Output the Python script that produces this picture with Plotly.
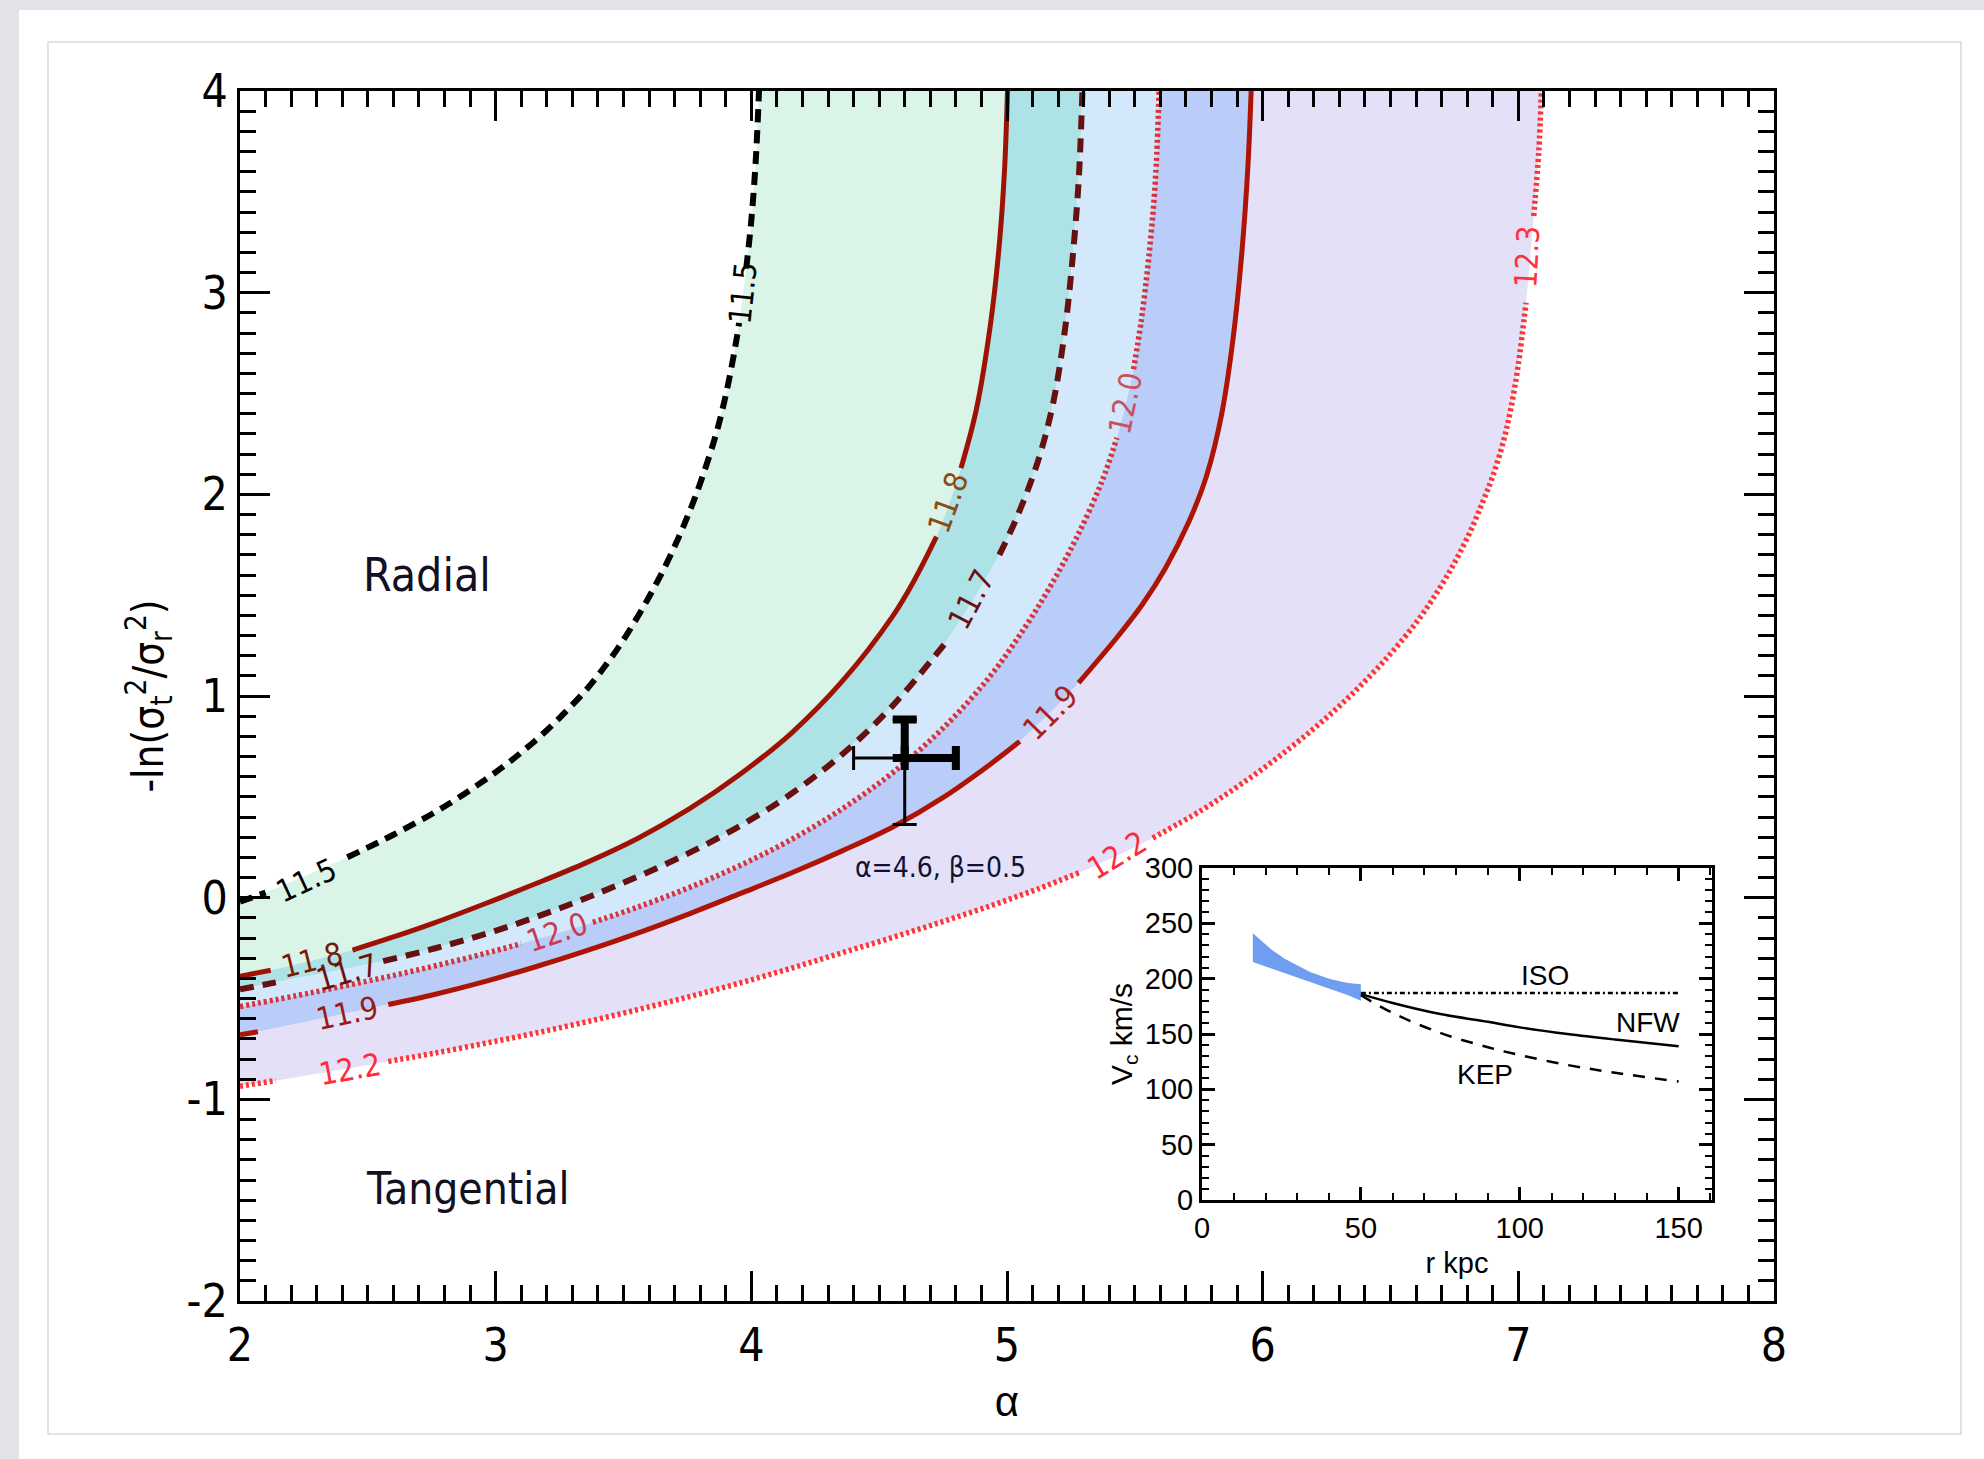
import plotly.graph_objects as go

# ---------------- data ----------------
x_ticks = [2, 3, 4, 5, 6, 7, 8]
y_ticks = [-2, -1, 0, 1, 2, 3, 4]
y_tick_text = ["-2", "-1", "0", "1", "2", "3", "4"]

# log-mass contours in the (alpha, -ln(sigma_t^2/sigma_r^2)) plane; None = gap under a label
alpha_115 = [2.00, 2.10, None, 2.42, 2.60, 2.80, 3.00, 3.10, 3.20, 3.28, 3.357, 3.42, 3.477, 3.54, 3.597, 3.66, 3.717, 3.76, 3.80, 3.86, 3.905, 3.945, 3.952, None, 3.98, 4.00, 4.017, 4.03]
lnr_115 = [-0.02, 0.025, None, 0.20, 0.312, 0.452, 0.622, 0.72, 0.83, 0.93, 1.035, 1.135, 1.235, 1.36, 1.485, 1.635, 1.79, 1.92, 2.055, 2.29, 2.52, 2.79, 2.85, None, 3.12, 3.36, 3.65, 4.00]

alpha_118 = [2.00, 2.12, None, 2.44, 2.60, 2.76, 2.958, 3.158, 3.357, 3.557, 3.757, 3.956, 4.156, 4.355, 4.555, 4.64, 4.724, None, 4.82, 4.88, 4.935, 4.97, 4.99, 5.002]
lnr_118 = [-0.39, -0.36, None, -0.26, -0.195, -0.125, -0.03, 0.07, 0.175, 0.295, 0.44, 0.612, 0.815, 1.072, 1.40, 1.58, 1.79, None, 2.13, 2.42, 2.84, 3.24, 3.60, 4.00]

alpha_117 = [2.00, 2.14, None, 2.56, 2.76, 2.96, 3.158, 3.357, 3.557, 3.757, 3.956, 4.156, 4.355, 4.555, 4.754, None, 4.97, 5.04, 5.12, 5.18, 5.225, 5.255, 5.28, 5.295]
lnr_117 = [-0.455, -0.42, None, -0.315, -0.252, -0.18, -0.096, 0.0, 0.105, 0.222, 0.356, 0.515, 0.71, 0.955, 1.255, None, 1.70, 1.89, 2.16, 2.45, 2.80, 3.15, 3.55, 4.00]

alpha_120 = [2.00, 2.28, 2.56, 2.76, 2.96, 3.10, None, 3.38, 3.557, 3.757, 3.956, 4.156, 4.355, 4.555, 4.754, 4.935, 5.07, 5.17, 5.27, 5.37, 5.43, None, 5.495, 5.525, 5.555, 5.58, 5.595]
lnr_120 = [-0.54, -0.471, -0.397, -0.339, -0.276, -0.228, None, -0.122, -0.046, 0.05, 0.16, 0.288, 0.44, 0.622, 0.846, 1.10, 1.34, 1.545, 1.78, 2.06, 2.28, None, 2.62, 2.86, 3.18, 3.55, 4.00]

alpha_119 = [2.00, 2.07, None, 2.58, 2.76, 2.96, 3.15, 3.35, 3.55, 3.757, 3.956, 4.156, 4.355, 4.555, 4.754, 4.935, 5.05, None, 5.28, 5.43, 5.53, 5.62, 5.71, 5.78, 5.84, 5.885, 5.92, 5.942, 5.955]
lnr_119 = [-0.68, -0.665, None, -0.53, -0.48, -0.415, -0.345, -0.265, -0.178, -0.08, 0.02, 0.122, 0.232, 0.352, 0.50, 0.662, 0.775, None, 1.065, 1.29, 1.455, 1.635, 1.86, 2.09, 2.40, 2.78, 3.22, 3.62, 4.00]

alpha_122 = [2.00, 2.14, None, 2.58, 2.76, 2.96, 3.15, 3.35, 3.55, 3.75, 3.95, 4.15, 4.35, 4.55, 4.75, 4.95, 5.12, 5.29, None, 5.57, 5.76, 5.91, 6.06, 6.21, 6.35, 6.49, 6.61, 6.69, 6.75, 6.81, 6.86, 6.90, 6.94, 6.97, 7.00, 7.03, None, 7.06, 7.08, 7.09]
lnr_122 = [-0.935, -0.907, None, -0.812, -0.771, -0.722, -0.673, -0.617, -0.557, -0.493, -0.425, -0.352, -0.275, -0.198, -0.118, -0.034, 0.043, 0.128, None, 0.296, 0.433, 0.558, 0.696, 0.849, 1.01, 1.195, 1.38, 1.53, 1.66, 1.81, 1.96, 2.09, 2.255, 2.42, 2.645, 2.95, None, 3.38, 3.70, 4.00]

# contour labels: text, alpha, y, angle
label_text = ["11.5", "11.5", "11.8", "11.8", "11.7", "11.7", "12.0", "12.0", "11.9", "11.9", "12.2", "12.2", "12.3"]
label_alpha = [2.26, 3.965, 2.28, 4.77, 2.42, 4.86, 3.24, 5.46, 2.42, 5.17, 2.43, 5.43, 7.035]
label_y = [0.09, 3.0, -0.31, 1.96, -0.37, 1.48, -0.17, 2.45, -0.57, 0.92, -0.85, 0.21, 3.18]
label_angle = [-25, -84, -14, -70, -16, -62, -19, -78, -12, -45, -10, -31, -87]

# measured point with error bars
pt_alpha = [4.6]
pt_lnr = [0.693]
pt_err_alpha = [0.20]
pt_err_lnr_up = [0.19]
pt_err_lnr_dn = [0.33]

# inset: circular velocity
band_r = [16, 18, 20, 22, 24, 26, 28, 30, 32, 34, 36, 38, 40, 43, 46, 50]
band_top = [241, 236, 231, 226, 222, 218, 215, 212, 209, 206, 204, 202, 200, 198, 196, 195]
band_bot = [215, 213, 211, 209, 207, 205, 203, 201, 199, 197, 195, 193, 191, 188, 185, 180]
iso_r = [50, 150]
iso_v = [187, 187]
nfw_r = [50, 60, 75, 90, 100, 115, 130, 150]
nfw_v = [186, 178, 168, 161, 156, 150, 145, 139]
kep_r = [50, 60, 75, 90, 100, 115, 130, 150]
kep_v = [185, 169, 151, 138, 131, 122, 115, 107]

# ---------------- styling ----------------
W, H = 1984, 1459
ML, MR, MT, MB = 240, 210, 91, 158
FN = "Liberation Sans Narrow, Arial Narrow, DejaVu Sans Condensed, Liberation Sans, Arial, sans-serif"
FS = "Liberation Sans, Arial, sans-serif"


def pxx(p):
    return (p - ML) / (W - ML - MR)


def pyy(p):
    return (H - MB - p) / (H - MT - MB)


curves = [
    (alpha_115, lnr_115, dict(color="black", width=6, dash="13px,8px"), None),
    (alpha_118, lnr_118, dict(color="#9e1206", width=5), "#daf5e7"),
    (alpha_117, lnr_117, dict(color="#661010", width=6, dash="14px,9px"), "#ade3e6"),
    (alpha_120, lnr_120, dict(color="#d8323c", width=5.5, dash="3px,3px"), "#d3e9fb"),
    (alpha_119, lnr_119, dict(color="#ad1404", width=5), "#bacdf8"),
    (alpha_122, lnr_122, dict(color="#ff3535", width=5.5, dash="3px,3px"), "#e3e0f8"),
]
label_colors = ["black", "black", "#7a1a05", "#8a4a10", "#6a1010", "#6a1010", "#c83a55", "#c85060",
                "#9a1a1a", "#a82020", "#ff2a3a", "#ff2a3a", "#ff3040"]

fig = go.Figure()

# fills between consecutive contours (invisible spline boundaries)
for i, (a, y, ln, fc) in enumerate(curves):
    ca = [v for v in a if v is not None]
    cy = [v for v in y if v is not None]
    fig.add_trace(go.Scatter(
        x=ca, y=cy, mode="lines",
        line=dict(width=0, shape="spline", smoothing=1.0, color="rgba(0,0,0,0)"),
        fill="tonexty" if fc else None, fillcolor=fc,
        hoverinfo="skip", showlegend=False))

# contour lines
for a, y, ln, fc in curves:
    fig.add_trace(go.Scatter(
        x=a, y=y, mode="lines", connectgaps=False,
        line=dict(shape="spline", smoothing=1.0, **ln),
        hoverinfo="skip", showlegend=False))

# error bars: thin full bars, thick upper/right halves
fig.add_trace(go.Scatter(
    x=pt_alpha, y=pt_lnr, mode="markers",
    marker=dict(color="black", size=10),
    error_x=dict(type="data", array=pt_err_alpha, arrayminus=pt_err_alpha, color="black", thickness=3, width=12),
    error_y=dict(type="data", array=pt_err_lnr_up, arrayminus=pt_err_lnr_dn, color="black", thickness=3, width=12),
    showlegend=False, hoverinfo="skip"))
fig.add_trace(go.Scatter(
    x=pt_alpha, y=pt_lnr, mode="markers",
    marker=dict(color="black", size=10),
    error_x=dict(type="data", array=pt_err_alpha, arrayminus=[0], color="black", thickness=8, width=12),
    error_y=dict(type="data", array=pt_err_lnr_up, arrayminus=[0], color="black", thickness=8, width=12),
    showlegend=False, hoverinfo="skip"))

# inset traces
fig.add_trace(go.Scatter(
    x=band_r + band_r[::-1], y=band_top + band_bot[::-1], mode="lines",
    fill="toself", fillcolor="#6f9ef0", line=dict(width=0, color="#6f9ef0"),
    xaxis="x2", yaxis="y2", showlegend=False, hoverinfo="skip"))
fig.add_trace(go.Scatter(x=iso_r, y=iso_v, mode="lines", line=dict(color="black", width=2.5, dash="5px,3px,2px,3px"),
                         xaxis="x2", yaxis="y2", showlegend=False, hoverinfo="skip"))
fig.add_trace(go.Scatter(x=nfw_r, y=nfw_v, mode="lines", line=dict(color="black", width=2.5, shape="spline"),
                         xaxis="x2", yaxis="y2", showlegend=False, hoverinfo="skip"))
fig.add_trace(go.Scatter(x=kep_r, y=kep_v, mode="lines", line=dict(color="black", width=2.5, dash="12px,10px", shape="spline"),
                         xaxis="x2", yaxis="y2", showlegend=False, hoverinfo="skip"))

annotations = []
for t, xa, ya, ang, c in zip(label_text, label_alpha, label_y, label_angle, label_colors):
    annotations.append(dict(x=xa, y=ya, xref="x", yref="y", text=t, showarrow=False, textangle=ang,
                            font=dict(family=FN, size=31, color=c)))
annotations += [
    dict(x=2.73, y=1.60, xref="x", yref="y", text="Radial", showarrow=False, font=dict(family=FN, size=46, color="#111122")),
    dict(x=2.89, y=-1.44, xref="x", yref="y", text="Tangential", showarrow=False, font=dict(family=FN, size=44, color="#111122")),
    dict(x=4.74, y=0.15, xref="x", yref="y", text="α=4.6, β=0.5", showarrow=False, font=dict(family=FN, size=28, color="#111133")),
    dict(x=108, y=203, xref="x2", yref="y2", text="ISO", showarrow=False, font=dict(family=FS, size=28, color="black")),
    dict(x=140.5, y=160, xref="x2", yref="y2", text="NFW", showarrow=False, font=dict(family=FS, size=28, color="black")),
    dict(x=89, y=113, xref="x2", yref="y2", text="KEP", showarrow=False, font=dict(family=FS, size=28, color="black")),
]

shapes = [
    dict(type="rect", xref="paper", yref="paper", x0=pxx(0), x1=pxx(19), y0=pyy(H), y1=pyy(0),
         fillcolor="#e2e4e8", line=dict(width=0), layer="below"),
    dict(type="rect", xref="paper", yref="paper", x0=pxx(0), x1=pxx(W), y0=pyy(10), y1=pyy(0),
         fillcolor="#e2e4e8", line=dict(width=0), layer="below"),
    dict(type="rect", xref="paper", yref="paper", x0=pxx(48), x1=pxx(1961), y0=pyy(1434), y1=pyy(42),
         fillcolor="rgba(0,0,0,0)", line=dict(width=1.5, color="#d9d9d9"), layer="below"),
]

axis_common = dict(showline=True, linecolor="black", linewidth=3, mirror="allticks", ticks="inside",
                   tickcolor="black", showgrid=False, zeroline=False)

fig.update_layout(
    width=W, height=H,
    margin=dict(l=ML, r=MR, t=MT, b=MB),
    paper_bgcolor="white", plot_bgcolor="white",
    font=dict(family=FN, color="black"),
    showlegend=False,
    xaxis=dict(range=[2, 8], tickvals=x_ticks, ticklen=30, tickwidth=3,
               tickfont=dict(family=FN, size=46, color="black"), ticklabelstandoff=2,
               minor=dict(dtick=0.1, tick0=2, ticklen=16, tickwidth=2.5, ticks="inside", tickcolor="black"),
               title=dict(text="α", font=dict(family=FS, size=42, color="black"), standoff=16),
               domain=[0, 1], **axis_common),
    yaxis=dict(range=[-2, 4], tickvals=y_ticks, ticktext=y_tick_text, ticklen=30, tickwidth=3,
               tickfont=dict(family=FN, size=46, color="black"), ticklabelstandoff=0,
               minor=dict(dtick=0.1, tick0=-2, ticklen=16, tickwidth=2.5, ticks="inside", tickcolor="black"),
               title=dict(text="-ln(σ<sub>t</sub><sup>2</sup>/σ<sub>r</sub><sup>2</sup>)",
                          font=dict(family=FN, size=42, color="black"), standoff=10),
               domain=[0, 1], **axis_common),
    xaxis2=dict(range=[0, 160.5], tickvals=[0, 50, 100, 150], ticklen=13, tickwidth=2.5,
                tickfont=dict(family=FS, size=29, color="black"),
                minor=dict(dtick=10, tick0=0, ticklen=7, tickwidth=2, ticks="inside", tickcolor="black"),
                title=dict(text="r kpc", font=dict(family=FS, size=29, color="black"), standoff=10),
                domain=[pxx(1202), pxx(1712)], anchor="y2", **axis_common),
    yaxis2=dict(range=[0, 300], tickvals=[0, 50, 100, 150, 200, 250, 300], ticklen=13, tickwidth=2.5,
                tickfont=dict(family=FS, size=29, color="black"),
                minor=dict(dtick=10, tick0=0, ticklen=7, tickwidth=2, ticks="inside", tickcolor="black"),
                title=dict(text="V<sub>c</sub> km/s", font=dict(family=FS, size=30, color="black"), standoff=4),
                domain=[pyy(1200), pyy(868)], anchor="x2", **axis_common),
    annotations=annotations,
    shapes=shapes,
)

fig.write_html("out.html", config={"displayModeBar": False},
               post_script="document.body.style.margin='0px';document.body.style.overflow='hidden';")
